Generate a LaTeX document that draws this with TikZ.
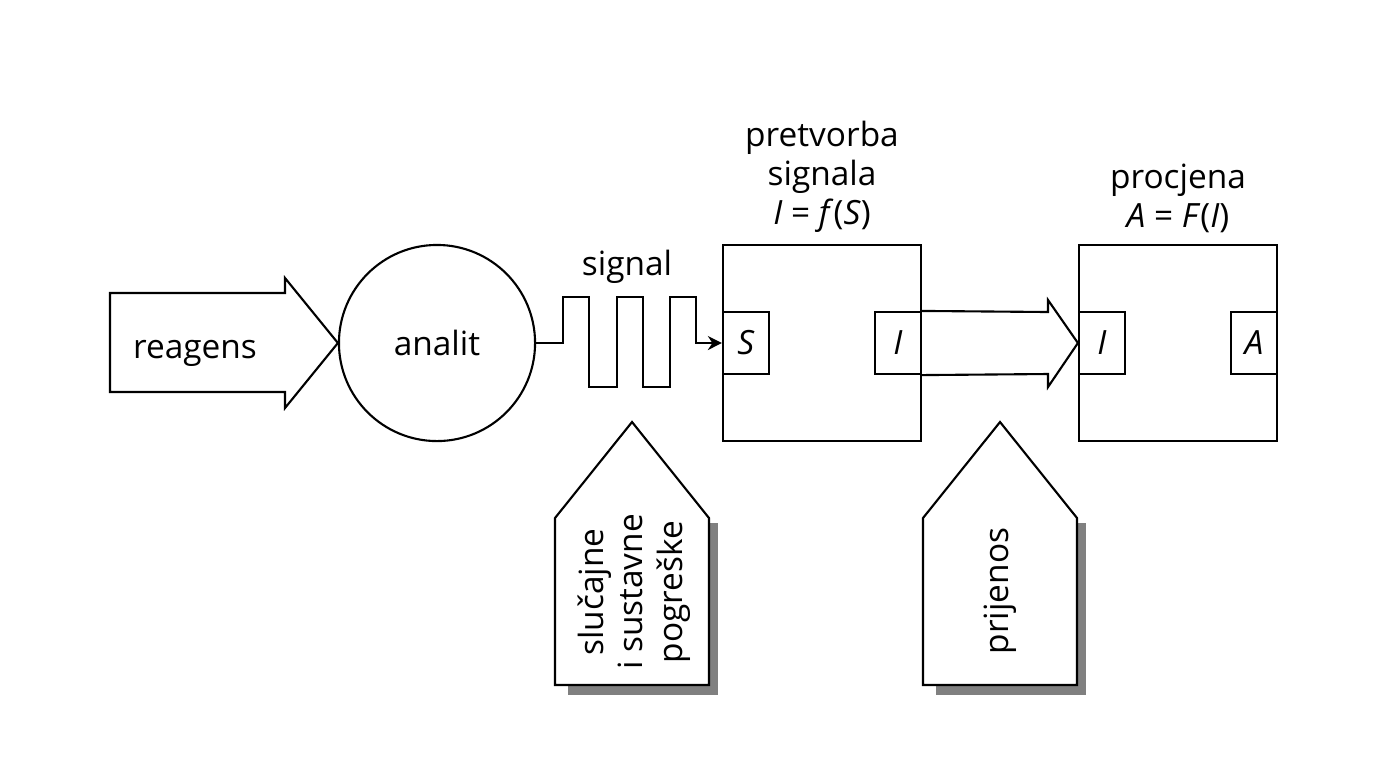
\documentclass[tikz,border=0pt]{standalone}
\usepackage{fontspec}
\setmainfont{Open Sans}
\usetikzlibrary{arrows.meta,positioning}

\begin{document}
\begin{tikzpicture}[x=0.01cm, y=-0.01cm, line width=0.6pt, node distance=0.1cm,
    every node/.style={font=\fontsize{9.5}{11.2}\selectfont, inner sep=0pt}]
    \tikzstyle{block} = [rectangle, draw=black, minimum width=1.98cm, minimum height=1.96cm]
    \tikzstyle{port} = [rectangle, draw=black, fill=white, minimum width=0.46cm, minimum height=0.62cm]
    \tikzstyle{caption} = [align=center]
    \tikzstyle{tag} = [align=center, rotate=90]
    \tikzstyle{shade} = [fill=black!50, draw=none]
    \useasboundingbox (0,0) rectangle (1377,775);

    \node (analit) [circle, draw=black, minimum size=1.96cm] at (437,343) {analit};
    \draw (110,293) -- (285,293) -- (285,278) -- (analit.west) -- (285,408) -- (285,392) -- (110,392) -- cycle;
    \node (reagens) [anchor=base] at (195,358) {reagens};

    \node (conv) [block] at (822,343) {};
    \node (sport) [port, anchor=west] at (conv.west) {\textit{S}};
    \node (iport) [port, anchor=east] at (conv.east) {\textit{I}};
    \node (convlbl) [caption, above=of conv] {pretvorba\\signala\\\textit{I} = \textit{f}(\textit{S})};

    \node (eval) [block] at (1178,343) {};
    \node (iport2) [port, anchor=west] at (eval.west) {\textit{I}};
    \node (aport) [port, anchor=east] at (eval.east) {\textit{A}};
    \node (evallbl) [caption, above=of eval] {procjena\\\textit{A} = \textit{F}(\textit{I})};

    % signal
    \node (signallbl) [anchor=base] at (627,275) {signal};
    \draw [-{Stealth[length=4pt, width=4pt]}] (analit.east) -- (563,343) -- (563,297) -- (589,297)
        -- (589,387) -- (617,387) -- (617,297) -- (643,297) -- (643,387) -- (670,387)
        -- (670,297) -- (696,297) -- (696,343) -- (sport.west);

    % prijenos
    \draw (iport.north east) -- (1048,312) -- (1048,300) -- (iport2.west) -- (1048,387) -- (1048,374) -- (iport.south east);

    \foreach \hx in {632,1000} {
        \fill [shade] (\hx-64,523) rectangle (\hx+86,695);
        \draw [fill=white] (\hx-77,685) -- (\hx-77,518) -- (\hx,422) -- (\hx+77,518) -- (\hx+77,685) -- cycle;
    }
    \node (errors) [tag] at (634,592) {slučajne\\i sustavne\\pogreške};
    \node (transfer) [tag] at (1000,591) {prijenos};
\end{tikzpicture}
\end{document}
